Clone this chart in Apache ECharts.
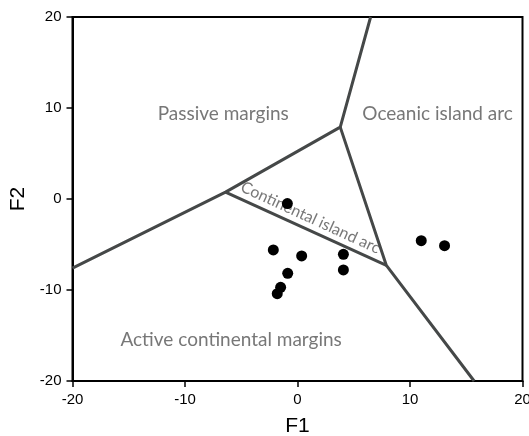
<!DOCTYPE html>
<html>
<head>
<meta charset="utf-8">
<script src="https://cdn.jsdelivr.net/npm/echarts@6/dist/echarts.min.js"></script>
<style>
  html, body { margin: 0; padding: 0; background: #fff; }
  #chart { width: 529px; height: 436px; }
</style>
</head>
<body>
<div id="chart"></div>
<script>
// Discriminant function sample scores (F1, F2)
const samples = [
  [-0.9, -0.5],
  [-2.15, -5.6],
  [0.37, -6.26],
  [4.08, -6.08],
  [4.08, -7.8],
  [-0.87, -8.17],
  [-1.5, -9.7],
  [-1.8, -10.4],
  [11.0, -4.58],
  [13.07, -5.13]
];

// Field boundaries of the tectonic setting diagram
const boundaryWest = [[-20, -7.6], [-6.4, 0.75], [3.8, 7.9], [6.5, 20]];
const boundaryEast = [[3.8, 7.9], [7.9, -7.3], [15.7, -20]];
const boundaryInner = [[-6.4, 0.75], [7.9, -7.3]];

// Field names and where they sit
const fieldLabels = [
  { name: 'Passive margins', pos: [-6.6, 9.3] },
  { name: 'Oceanic island arc', pos: [12.45, 9.3] },
  { name: 'Active continental margins', pos: [-5.9, -15.5] }
];
const arcLabel = { name: 'Continental island arc', pos: [1.15, -2.05], angle: -24.6 };

const xTicks = { min: -20, max: 20, step: 10 };
const yTicks = { min: -20, max: 20, step: 10 };

const lineStyle = { color: '#454848', width: 3 };
const fieldFont = { fontFamily: 'Lato', fontSize: 19, color: '#555' };
const tickFont = { fontFamily: 'Liberation Sans', fontSize: 15, color: '#000' };
const titleFont = { fontFamily: 'Liberation Sans', fontSize: 21, color: '#000' };

function boundary(data) {
  return {
    type: 'line', data: data, symbol: 'none', silent: true,
    lineStyle: lineStyle, z: 2
  };
}

const chart = echarts.init(document.getElementById('chart'));
chart.setOption({
  animation: false,
  grid: {
    left: 72.5, right: 6.5, top: 17, bottom: 55,
    outerBoundsMode: 'none', containLabel: false,
    show: true, borderColor: '#000', borderWidth: 2
  },
  xAxis: {
    type: 'value', min: xTicks.min, max: xTicks.max, interval: xTicks.step,
    name: 'F1', nameLocation: 'middle', nameGap: 35,
    nameTextStyle: titleFont,
    axisLine: { show: true, onZero: false, lineStyle: { color: '#000', width: 2 } },
    axisTick: { show: true, length: 6, lineStyle: { color: '#000', width: 1.5 } },
    axisLabel: { ...tickFont, margin: 11 },
    splitLine: { show: false }
  },
  yAxis: {
    type: 'value', min: yTicks.min, max: yTicks.max, interval: yTicks.step,
    name: 'F2', nameLocation: 'middle', nameGap: 38, nameRotate: 90,
    nameTextStyle: titleFont,
    axisLine: { show: true, onZero: false, lineStyle: { color: '#000', width: 2 } },
    axisTick: { show: true, length: 6, lineStyle: { color: '#000', width: 1.5 } },
    axisLabel: { ...tickFont, margin: 11 },
    splitLine: { show: false }
  },
  series: [
    boundary(boundaryWest),
    boundary(boundaryEast),
    boundary(boundaryInner),
    {
      type: 'scatter', silent: true, symbolSize: 0, z: 3,
      data: fieldLabels.map(f => ({ value: f.pos, name: f.name })),
      label: {
        show: true, position: 'inside', formatter: p => p.name,
        ...fieldFont
      }
    },
    {
      type: 'scatter', silent: true, symbolSize: 0, z: 3,
      data: [{ value: arcLabel.pos, name: arcLabel.name }],
      label: {
        show: true, position: 'inside', formatter: p => p.name,
        rotate: arcLabel.angle,
        fontFamily: 'Lato', fontSize: 16, color: '#555'
      }
    },
    {
      type: 'scatter', data: samples, symbol: 'circle', symbolSize: 11,
      itemStyle: { color: '#000', opacity: 1 }, z: 4
    }
  ]
});
</script>
</body>
</html>
